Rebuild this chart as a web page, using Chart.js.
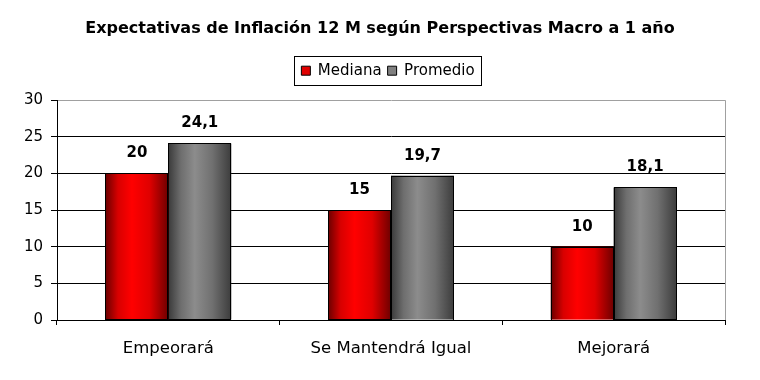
<!DOCTYPE html>
<html>
<head>
<meta charset="utf-8">
<script src="https://cdn.jsdelivr.net/npm/chart.js@4"></script>
<style>
    html, body { margin: 0; padding: 0; background: #fff; }
    #wrap { width: 760px; height: 380px; }
</style>
</head>
<body>
<div id="wrap"><canvas id="inflChart" width="760" height="380"></canvas></div>
<script>
const categories = ['Empeorará', 'Se Mantendrá Igual', 'Mejorará'];
const mediana = [20, 15, 10];
const promedio = [24.1, 19.7, 18.1];
const yTicks = [0, 5, 10, 15, 20, 25, 30];

const FONT = '"DejaVu Sans", "Liberation Sans", Arial, sans-serif';
const LEGEND_SHIFT = 8;

// colour stops for the shaded (cylinder-like) bars
const shades = {
    red: ['#6a0000', '#d80000', '#ff0000', '#e00000', '#6e0000'],
    gray: ['#3a3a3a', '#6e6e6e', '#8c8c8c', '#707070', '#3c3c3c'],
};

const fmt = v => String(v).replace('.', ',');

// draws each bar again with a horizontal gradient and a black outline
const shadedBars = {
    id: 'shadedBars',
    afterDatasetDraw(chart, args) {
        const ctx = chart.ctx;
        const stops = args.index === 0 ? shades.red : shades.gray;
        args.meta.data.forEach(el => {
            const { x, y, base, width } = el.getProps(['x', 'y', 'base', 'width'], true);
            const left = x - width / 2;
            const g = ctx.createLinearGradient(left, 0, left + width, 0);
            g.addColorStop(0, stops[0]);
            g.addColorStop(0.2, stops[1]);
            g.addColorStop(0.42, stops[2]);
            g.addColorStop(0.7, stops[3]);
            g.addColorStop(1, stops[4]);
            ctx.save();
            ctx.fillStyle = g;
            ctx.fillRect(left, y, width, base - y);
            ctx.strokeStyle = '#000';
            ctx.lineWidth = 1;
            ctx.strokeRect(Math.round(left) + 0.5, Math.round(y) + 0.5, Math.round(width) - 1, Math.round(base - y));
            ctx.restore();
        });
    },
    afterDatasetsDraw(chart) {
        const ctx = chart.ctx;
        ctx.save();
        ctx.font = 'bold 15px ' + FONT;
        ctx.fillStyle = '#000';
        ctx.textAlign = 'center';
        ctx.textBaseline = 'middle';
        chart.data.datasets.forEach((ds, i) => {
            chart.getDatasetMeta(i).data.forEach((el, j) => {
                ctx.fillText(fmt(ds.data[j]), el.x, el.y - 20);
            });
        });
        ctx.restore();
    },
};

// legend gets extra room below it, a small nudge right and a framed box round the items
const legendFrame = {
    id: 'legendFrame',
    beforeLayout(chart) {
        const lg = chart.legend;
        if (lg && !lg._padded) {
            const fit = lg.fit;
            lg.fit = function () { fit.call(this); this.height += 12; };
            const draw = lg.draw;
            lg.draw = function () {
                this.ctx.save();
                this.ctx.translate(LEGEND_SHIFT, 0);
                draw.call(this);
                this.ctx.restore();
            };
            lg._padded = true;
        }
    },
    afterDraw(chart) {
        const boxes = chart.legend && chart.legend.legendHitBoxes;
        if (!boxes || !boxes.length) return;
        const l = Math.min(...boxes.map(b => b.left)) + LEGEND_SHIFT;
        const r = Math.max(...boxes.map(b => b.left + b.width)) + LEGEND_SHIFT;
        const ctx = chart.ctx;
        ctx.save();
        ctx.strokeStyle = '#000';
        ctx.lineWidth = 1;
        ctx.strokeRect(Math.round(l - 7) + 0.5, 56.5, Math.round(r - l + 14), 29);
        ctx.restore();
    },
};

const ctx = document.getElementById('inflChart');
new Chart(ctx, {
    type: 'bar',
    data: {
        labels: categories,
        datasets: [
            { label: 'Mediana', data: mediana, backgroundColor: '#ff0000', borderColor: '#000', borderWidth: 1 },
            { label: 'Promedio', data: promedio, backgroundColor: '#808080', borderColor: '#000', borderWidth: 1 },
        ]
    },
    options: {
        responsive: false,
        animation: false,
        devicePixelRatio: 1,
        categoryPercentage: 0.565,
        barPercentage: 1,
        layout: { padding: 0 },
        plugins: {
            title: {
                display: true,
                text: 'Expectativas de Inflación 12 M según Perspectivas Macro a 1 año',
                color: '#000',
                font: { family: FONT, size: 16, weight: 'bold' },
                padding: { top: 19, bottom: 19 },
            },
            legend: {
                display: true,
                labels: {
                    color: '#000',
                    font: { family: FONT, size: 15 },
                    boxWidth: 9,
                    boxHeight: 9,
                    padding: 6,
                    generateLabels: chart => chart.data.datasets.map((ds, i) => ({
                        text: ds.label,
                        fillStyle: i === 0 ? '#e00000' : '#808080',
                        strokeStyle: '#000',
                        lineWidth: 1,
                        datasetIndex: i,
                    })),
                },
            },
            tooltip: { enabled: false },
        },
        scales: {
            x: {
                afterFit: s => { s.height = 60; },
                grid: {
                    offset: true,
                    drawOnChartArea: true,
                    color: c => c.tick ? 'rgba(0,0,0,0)' : '#a0a0a0',
                    tickColor: '#000',
                    tickLength: 5,
                },
                border: { color: '#000' },
                ticks: { color: '#000', font: { family: FONT, size: 16.5 }, padding: 14 },
            },
            y: {
                min: 0,
                max: 30,
                afterFit: s => { s.width = 57; },
                afterBuildTicks: s => { s.ticks = yTicks.map(v => ({ value: v })); },
                grid: {
                    color: c => c.tick && c.tick.value === 30 ? '#a0a0a0' : '#000',
                    tickColor: '#000',
                    tickLength: 6,
                },
                border: { color: '#000' },
                ticks: { color: '#000', font: { family: FONT, size: 15 }, padding: 8 },
            },
            // empty right-hand margin so the title and legend stay centred on the page
            spacer: {
                type: 'linear',
                position: 'right',
                afterFit: s => { s.width = 35; },
                grid: { display: false },
                border: { display: false },
                ticks: { display: false },
            },
        },
    },
    plugins: [shadedBars, legendFrame],
});
</script>
</body>
</html>
